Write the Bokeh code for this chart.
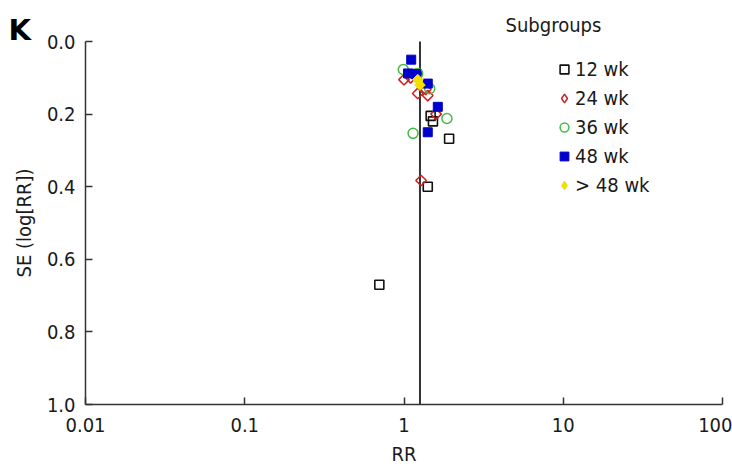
import math
from bokeh.plotting import figure
from bokeh.models import (Range1d, FixedTicker, Label, Legend, LegendItem,
                          NumeralTickFormatter)
from bokeh.embed import file_html
from bokeh.resources import INLINE

# ---------------- data ----------------
groups = ["12 wk", "24 wk", "36 wk", "48 wk", "> 48 wk"]

rr_12 = [0.70, 1.41, 1.92, 1.52, 1.47, 1.20]
se_12 = [0.67, 0.40, 0.268, 0.22, 0.205, 0.09]

rr_24 = [1.28, 1.00, 1.10, 1.22, 1.41, 1.37, 1.59]
se_24 = [0.383, 0.105, 0.10, 0.143, 0.149, 0.132, 0.20]

rr_36 = [0.99, 1.22, 1.86, 1.14, 1.45]
se_36 = [0.077, 0.088, 0.212, 0.253, 0.13]

rr_48 = [1.11, 1.06, 1.41, 1.63, 1.41, 1.19]
se_48 = [0.05, 0.088, 0.116, 0.18, 0.25, 0.09]

rr_gt48 = [1.26, 1.22]
se_gt48 = [0.12, 0.105]

pooled_rr = 1.26

x_ticks = [0.01, 0.1, 1, 10, 100]
x_tick_labels = ["0.01", "0.1", "1", "10", "100"]
y_ticks = [0.0, 0.2, 0.4, 0.6, 0.8, 1.0]

FONT = "DejaVu Sans Condensed"
TXT = "#1a1a1a"
NAN = float("nan")

W, H = 732, 466
# plot area inside the canvas (pixels): left, right, top, bottom
L, R, T, B = 85, 722, 41, 404
dec = (R - L) / 4.0
x_lo = 10 ** (-2 - L / dec)
x_hi = 10 ** (2 + (W - R) / dec)
unit = (B - T) / 1.0
y_top = 0.0 - T / unit
y_bot = 1.0 + (H - B) / unit

p = figure(width=W, height=H, x_axis_type="log",
           x_range=Range1d(x_lo, x_hi), y_range=Range1d(y_bot, y_top),
           output_backend="svg", toolbar_location=None,
           min_border_left=0, min_border_right=0,
           min_border_top=0, min_border_bottom=0)
p.outline_line_color = None
p.xgrid.visible = False
p.ygrid.visible = False
p.background_fill_color = "white"

# axes, pinned to the data edges
p.xaxis.ticker = FixedTicker(ticks=x_ticks)
p.xaxis.major_label_overrides = {t: l for t, l in zip(x_ticks, x_tick_labels)}
p.xaxis.bounds = (x_ticks[0], x_ticks[-1])
p.xaxis.fixed_location = y_ticks[-1]
p.yaxis.ticker = FixedTicker(ticks=y_ticks)
p.yaxis.formatter = NumeralTickFormatter(format="0.0")
p.yaxis.bounds = (y_ticks[0], y_ticks[-1])
p.yaxis.fixed_location = x_ticks[0]
for ax in (p.xaxis, p.yaxis):
    ax.minor_tick_line_color = None
    ax.major_tick_in = 7
    ax.major_tick_out = 0
    ax.axis_line_color = "#333333"
    ax.axis_line_width = 1.5
    ax.major_tick_line_color = "#333333"
    ax.major_tick_line_width = 1.5
    ax.major_label_text_font = FONT
    ax.major_label_text_font_size = "20px"
    ax.major_label_text_color = TXT
    ax.axis_label_text_font = FONT
    ax.axis_label_text_font_size = "20px"
    ax.axis_label_text_font_style = "normal"
    ax.axis_label_text_color = TXT
p.xaxis.axis_label = "RR"
p.yaxis.axis_label = "SE (log[RR])"
p.xaxis.major_label_standoff = 13
p.yaxis.major_label_standoff = 10
p.xaxis.axis_label_standoff = 7
p.yaxis.axis_label_standoff = 8

# pooled estimate line
p.segment(x0=[pooled_rr], y0=[y_ticks[0]], x1=[pooled_rr], y1=[y_ticks[-1]],
          line_color="#333333", line_width=2)

# series
r12 = p.scatter(rr_12, se_12, marker="square", size=9, fill_color=None,
                line_color="#111111", line_width=1.6)
r24 = p.scatter(rr_24, se_24, marker="square", angle=math.pi / 4, size=7.5,
                fill_color=None, line_color="#cc2020", line_width=1.5)
r36 = p.scatter(rr_36, se_36, marker="circle", size=10, fill_color=None,
                line_color="#44bb44", line_width=1.5)
r48 = p.scatter(rr_48, se_48, marker="square", size=9, fill_color="#0000cc",
                line_color="#0000cc", line_width=1)
rgt = p.scatter(rr_gt48, se_gt48, marker="square", angle=math.pi / 4, size=7.5,
                fill_color="#f2e000", line_color="#f2e000", line_width=1)

# legend-only glyphs for the diamond shapes (a single NaN point, never drawn)
k24 = p.scatter([NAN], [NAN], marker="diamond", fill_color=None,
                line_color="#cc2020", line_width=1.5)
kgt = p.scatter([NAN], [NAN], marker="diamond", fill_color="#f2e000",
                line_color="#f2e000", line_width=1)

legend = Legend(items=[LegendItem(label=g, renderers=[r])
                       for g, r in zip(groups, [r12, k24, r36, r48, kgt])],
                location=(553, 269), orientation="vertical",
                border_line_color=None, background_fill_alpha=0,
                padding=0, margin=0, spacing=5,
                glyph_width=22, glyph_height=24, label_height=24,
                label_standoff=0,
                label_text_font=FONT, label_text_font_size="20px",
                label_text_color=TXT)
p.add_layout(legend)

p.add_layout(Label(x=505, y=H - 24, x_units="screen", y_units="screen",
                   text="Subgroups", text_font=FONT, text_font_size="20px",
                   text_color=TXT, text_baseline="middle", text_align="left"))
p.add_layout(Label(x=8, y=H - 29, x_units="screen", y_units="screen",
                   text="K", text_font="DejaVu Sans", text_font_size="29px",
                   text_font_style="bold", text_color="#000000",
                   text_baseline="middle", text_align="left"))

open("out.html", "w").write(file_html(p, INLINE))
